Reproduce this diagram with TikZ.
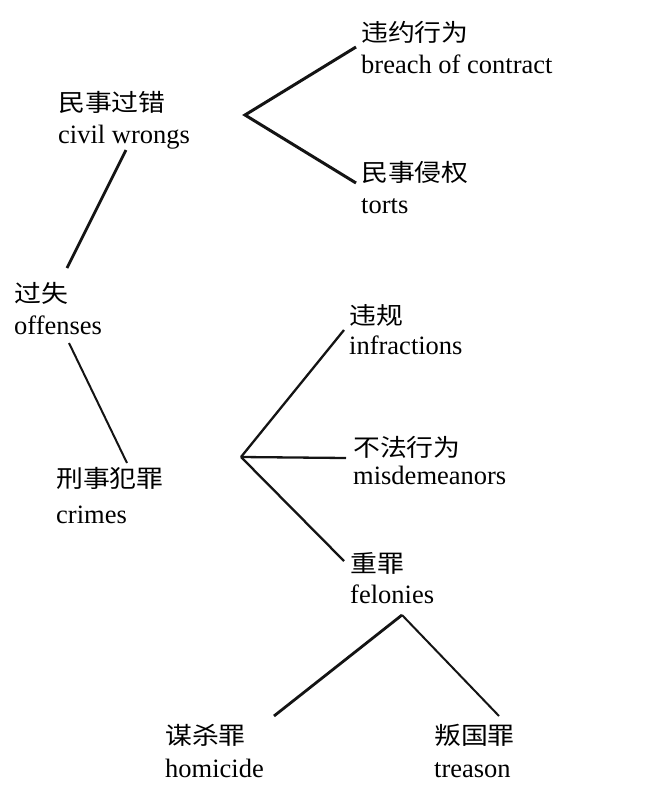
\documentclass[tikz,border=0pt]{standalone}
\usepackage{fontspec}
\setmainfont{Liberation Serif}
\newfontfamily\cjk[FakeStretch=1.12]{Noto Sans CJK SC}
\begin{document}
\begin{tikzpicture}[x=1bp,y=-1bp,
  zh/.style={anchor=base west,inner sep=0pt,font=\cjk\fontsize{24bp}{28bp}\selectfont},
  en/.style={anchor=base west,inner sep=0pt,font=\fontsize{26.5bp}{30bp}\selectfont},
  edge/.style={draw=black!92,line width=#1,line cap=butt},
  edge/.default=2.4bp]
\useasboundingbox (0,0) rectangle (670,797);
% labels
\node[zh] (breach) at (361,42) {违约行为};
\node[en] (breachEn) at (361,74) {breach of contract};
\node[zh] (civil) at (58,111) {民事过错};
\node[en] (civilEn) at (58,143) {civil wrongs};
\node[zh] (torts) at (361,181) {民事侵权};
\node[en] (tortsEn) at (361,213) {torts};
\node[zh] (off) at (14,302) {过失};
\node[en] (offEn) at (14,334) {offenses};
\node[zh] (inf) at (349,324) {违规};
\node[en] (infEn) at (349,354) {infractions};
\node[zh] (mis) at (353,456) {不法行为};
\node[en] (misEn) at (353,484) {misdemeanors};
\node[zh] (crimes) at (56,487) {刑事犯罪};
\node[en] (crimesEn) at (56,523) {crimes};
\node[zh] (fel) at (350,572) {重罪};
\node[en] (felEn) at (350,603) {felonies};
\node[zh] (hom) at (165,744) {谋杀罪};
\node[en] (homEn) at (165,777) {homicide};
\node[zh] (tre) at (434,744) {叛国罪};
\node[en] (treEn) at (434,777) {treason};
% fork points
\coordinate (forkCivil) at (245,115);
\coordinate (forkCrimes) at (241,457);
\coordinate (forkFel) at (402,615);
% connectors
\draw[edge=3bp] ([shift={(-5,5)}]breach.base west) -- (forkCivil) -- ([shift={(-5,2)}]torts.base west);
\draw[edge=2.8bp] ([shift={(68,7)}]civilEn.base west) -- ([shift={(53,-34)}]off.base west);
\draw[edge=2bp] ([shift={(55,9)}]offEn.base west) -- ([shift={(71,-24)}]crimes.base west);
\draw[edge=2.3bp] ([shift={(-5,6)}]inf.base west) -- (forkCrimes);
\draw[edge=2.3bp] ([shift={(-7,2)}]mis.base west) -- (forkCrimes);
\draw[edge=2.3bp] ([shift={(-6,-11)}]fel.base west) -- (forkCrimes);
\draw[edge=2.8bp] (forkFel) -- ([shift={(109,-28)}]hom.base west);
\draw[edge=2bp] (forkFel) -- ([shift={(65,-28)}]tre.base west);
\end{tikzpicture}
\end{document}
